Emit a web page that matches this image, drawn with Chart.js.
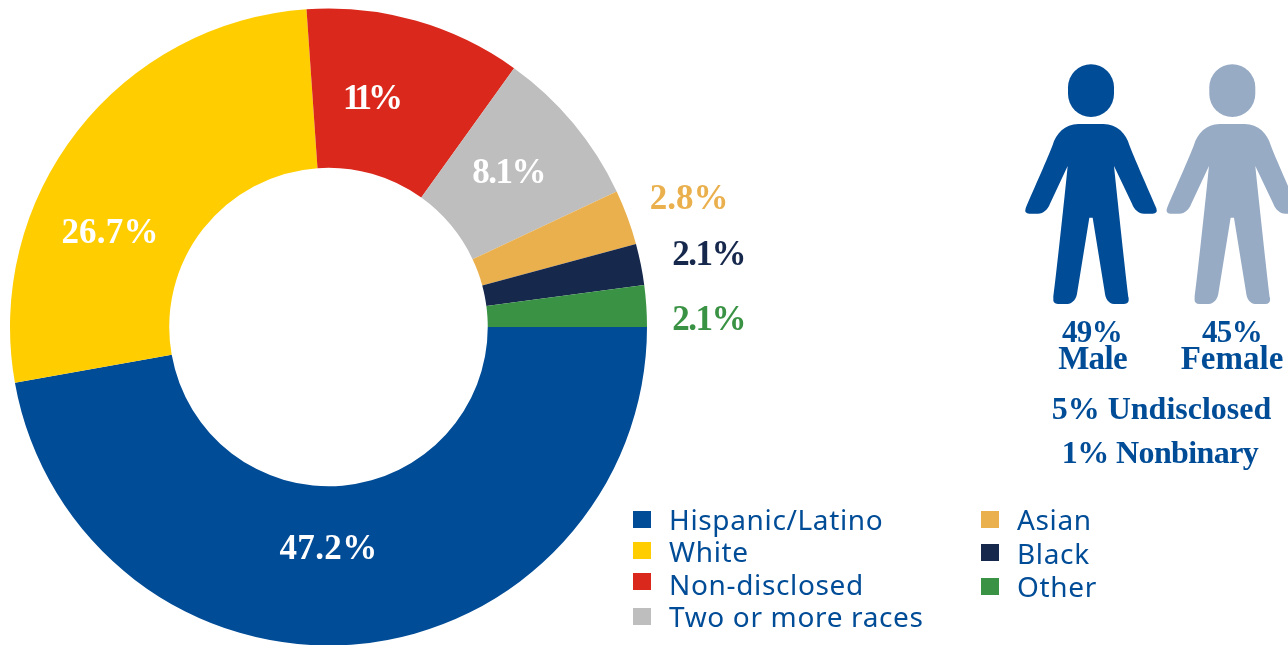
<!DOCTYPE html>
<html>
<head>
<meta charset="utf-8">
<title>Demographics</title>
<script src="https://cdn.jsdelivr.net/npm/chart.js@4"></script>
<style>
    html, body { margin: 0; padding: 0; background: #fff; overflow: hidden; }
    #wrap { position: relative; width: 1288px; height: 645px; }
</style>
</head>
<body>
<div id="wrap"><canvas id="donut" width="1288" height="645"></canvas></div>
<script>
// ===============================
// Data
// ===============================
const groups = ["Hispanic/Latino", "White", "Non-disclosed", "Two or more races", "Asian", "Black", "Other"];
const shares = [47.2, 26.7, 11, 8.1, 2.8, 2.1, 2.1];
const shareLabels = ["47.2%", "26.7%", "11%", "8.1%", "2.8%", "2.1%", "2.1%"];
const groupColors = ["#004c97", "#ffcd00", "#da291c", "#bebebe", "#eab04d", "#17284d", "#3a9344"];

const genderPercents = ["49%", "45%"];
const genderNames = ["Male", "Female"];
const genderNotes = ["5% Undisclosed", "1% Nonbinary"];

// ===============================
// Layout of the text and icons
// ===============================
const BLUE = "#004c97";
const SOFT_BLUE = "#97abc4";
const SERIF = '"Liberation Serif", serif';
const SANS = '"Noto Sans", sans-serif';

// centre x / baseline y / letter spacing of each share label
const labelSpots = [[328.5, 559, 0.4], [110, 243, 0.2], [371, 109, -4], [508.5, 183, -1.5],
    [689, 209, 0], [708.5, 265, -1.5], [708.5, 330, -1.5]];
const labelInside = [true, true, true, true, false, false, false];

// legend rows: square x, square y, text x, baseline y
const legendRows = [
    [633, 511, 669, 530], [633, 542, 669, 562], [633, 573, 669, 595], [633, 608, 669, 627],
    [981, 511, 1017, 530], [981, 544, 1017, 564], [981, 578, 1017, 597]
];

// ===============================
// Person icon, in 1/3 px units, origin at the top of the head
// ===============================
const personPath = new Path2D(
    "M235 179 L310 179 C352 179 378 208 388 242 C400 275 445 375 469 432 " +
    "Q474 448 458 448 L432 448 C415 447 403 436 396 418 L342 305 " +
    "C352 400 378 640 386 702 Q388 719 372 719 L342 719 C326 717 316 704 314 682 " +
    "L278 460 L268 460 L232 682 C230 704 218 717 202 719 L174 719 Q158 719 160 702 " +
    "C168 640 194 400 203 305 L150 418 C143 436 131 447 114 448 L88 448 " +
    "Q72 448 77 432 C101 375 146 275 158 242 C168 208 194 179 235 179 Z"
);

// ===============================
// Plugin: share labels, legend, people
// ===============================
const overlayPlugin = {
    id: "overlay",
    afterDraw(chart) {
        const ctx = chart.ctx;
        ctx.save();

        // Share labels
        ctx.textAlign = "center";
        ctx.textBaseline = "alphabetic";
        ctx.font = "bold 35px " + SERIF;
        shareLabels.forEach((txt, i) => {
            ctx.letterSpacing = labelSpots[i][2] + "px";
            ctx.fillStyle = labelInside[i] ? "#fff" : groupColors[i];
            ctx.fillText(txt, labelSpots[i][0], labelSpots[i][1]);
        });

        // Legend
        ctx.textAlign = "left";
        ctx.font = "28px " + SANS;
        ctx.letterSpacing = "0.65px";
        groups.forEach((name, i) => {
            const row = legendRows[i];
            ctx.fillStyle = groupColors[i];
            ctx.fillRect(row[0], row[1], 18, 17);
            ctx.fillStyle = BLUE;
            ctx.fillText(name, row[2], row[3]);
        });

        // People
        drawPerson(ctx, 1000, BLUE);
        drawPerson(ctx, 1141.3, SOFT_BLUE);

        // Gender text
        ctx.textAlign = "center";
        ctx.fillStyle = BLUE;
        ctx.font = "bold 31px " + SERIF;
        drawSpaced(ctx, genderPercents[0], 1092, 341.5, -0.6);
        drawSpaced(ctx, genderPercents[1], 1232, 341.5, -0.6);
        ctx.font = "bold 33px " + SERIF;
        drawSpaced(ctx, genderNames[0], 1092.5, 369, -0.7);
        drawSpaced(ctx, genderNames[1], 1232, 369, 0);
        ctx.font = "bold 32px " + SERIF;
        drawSpaced(ctx, genderNotes[0], 1161.5, 419, 0);
        drawSpaced(ctx, genderNotes[1], 1160, 463, -0.6);

        ctx.restore();
    }
};

function drawSpaced(ctx, txt, x, y, spacing) {
    ctx.letterSpacing = spacing + "px";
    ctx.fillText(txt, x, y);
}

function drawPerson(ctx, left, color) {
    ctx.save();
    ctx.translate(left, 64.3);
    ctx.scale(1 / 3, 1 / 3);
    ctx.fillStyle = color;
    ctx.beginPath();
    ctx.roundRect(204, 0, 138, 158, 69);
    ctx.fill();
    ctx.fill(personPath);
    ctx.restore();
}

// ===============================
// Doughnut
// ===============================
new Chart(document.getElementById("donut"), {
    type: "doughnut",
    data: {
        labels: groups,
        datasets: [{
            data: shares,
            backgroundColor: groupColors,
            borderWidth: 0,
            clip: false
        }]
    },
    options: {
        responsive: false,
        animation: false,
        rotation: 90,
        radius: 318.5,
        cutout: 159,
        layout: { padding: { left: 10, right: 641, top: 9, bottom: 0 } },
        plugins: {
            legend: { display: false },
            tooltip: { enabled: false }
        }
    },
    plugins: [overlayPlugin]
});
</script>
</body>
</html>
